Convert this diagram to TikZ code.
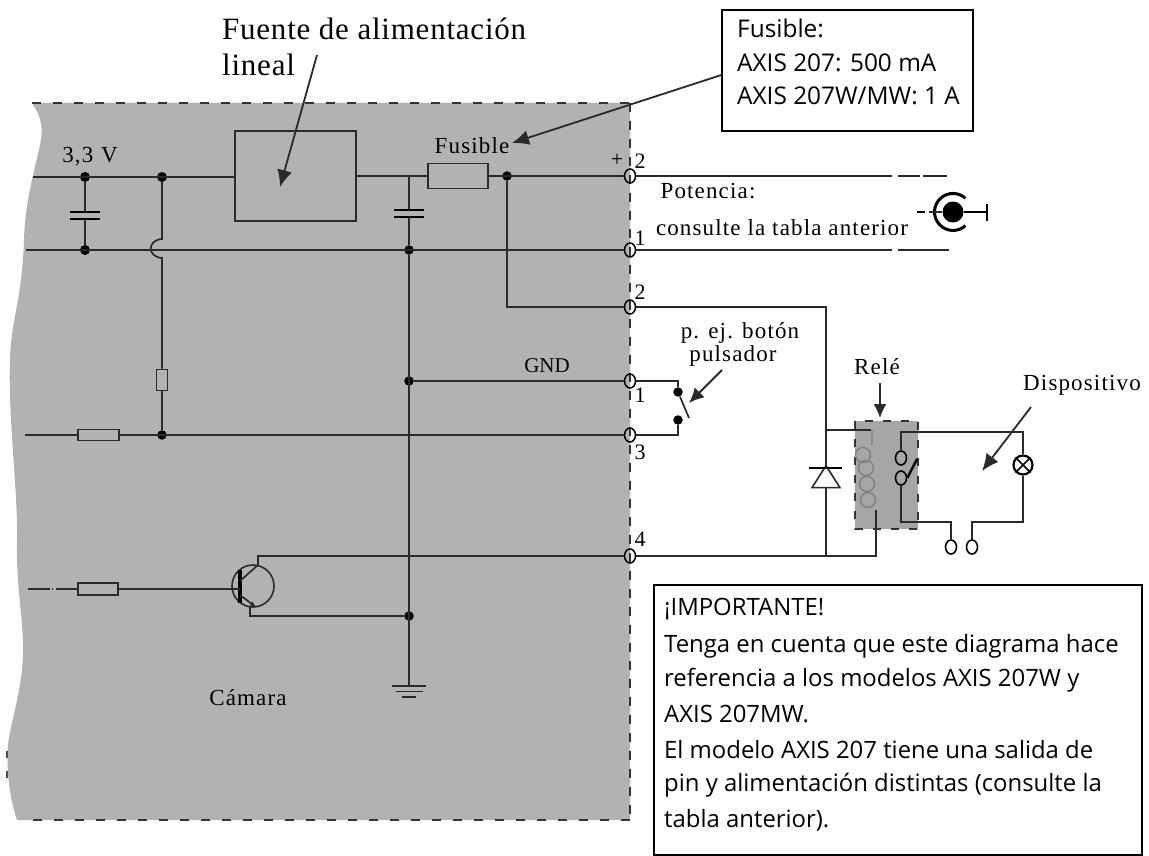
\documentclass[tikz,border=0pt]{standalone}
\usepackage{fontspec}
\setmainfont{Liberation Serif}
\newfontfamily\spacedfont[LetterSpace=5]{Liberation Serif}
\newfontfamily\bigfont[LetterSpace=2.5]{Liberation Serif}
\newfontfamily\boxfont{Open Sans}
\usetikzlibrary{arrows.meta,shapes.geometric,calc}
\definecolor{regiongray}{HTML}{B2B2B2}
\definecolor{relaygray}{HTML}{A6A6A6}
\definecolor{wire}{HTML}{2A2A2A}
\tikzset{
  x=1pt,y=-1pt,
  wireline/.style={draw=wire,line width=1.7pt},
  dotnode/.style={circle,fill=black,inner sep=0pt,minimum size=10pt},
  smalldot/.style={circle,fill=black,inner sep=0pt,minimum size=9.5pt},
  pin/.style={ellipse,draw=black,line width=1.5pt,inner sep=0pt,minimum width=11pt,minimum height=14pt},
  comp/.style={rectangle,draw=wire,line width=1.7pt,inner sep=0pt},
  callout/.style={draw=black,line width=1.2pt,fill=white,rectangle,inner sep=0pt},
  lbl/.style={inner sep=0pt,font=\spacedfont\fontsize{23}{23}\selectfont,text=black},
  gndl/.style={inner sep=0pt,font=\fontsize{21}{21}\selectfont,text=black},
  pnum/.style={inner sep=0pt,font=\fontsize{22}{22}\selectfont,text=black},
  bigl/.style={inner sep=0pt,anchor=west,font=\bigfont\fontsize{31}{31}\selectfont,text=black},
  boxl/.style={inner sep=0pt,anchor=west,font=\boxfont\fontsize{24.4}{24.4}\selectfont,text=black},
  boxm/.style={inner sep=0pt,anchor=west,font=\boxfont\fontsize{23.9}{23.9}\selectfont,text=black},
  pointer/.style={draw=wire,line width=1.8pt,-{Latex[length=17pt,width=15pt]}},
  dashb/.style={draw=black!80,line width=2.2pt,dash pattern=on 9pt off 12pt},
  contact/.style={ellipse,draw=black,line width=1.6pt,minimum width=11pt,minimum height=14pt,inner sep=0pt},
}
\begin{document}
\begin{tikzpicture}
\useasboundingbox (0,0) rectangle (1149,856);
% camera region
\fill[regiongray] (32,103) -- (630,103) -- (630,820) -- (17,820)
  .. controls (10,800) and (6,770) .. (8,745)
  .. controls (10,725) and (22,690) .. (23,655)
  .. controls (24,620) and (16,590) .. (17,540)
  .. controls (18,490) and (8,420) .. (10,360)
  .. controls (11,320) and (22,300) .. (24,240)
  .. controls (25,200) and (36,165) .. (40,145)
  .. controls (44,125) and (40,115) .. (32,103) -- cycle;
\draw[dashb] (32,103) -- (630,103);
\draw[dashb,dash pattern=on 9pt off 9pt] (630,103) -- (630,820);
\draw[dashb] (630,820) -- (23,820);
\coordinate (markA) at (7,751); \coordinate (markB) at (7,758);
\coordinate (markC) at (7,771); \coordinate (markD) at (7,778);
\draw[draw=black!70,line width=1.5pt] (markA) -- (markB) (markC) -- (markD);

% relay body
\fill[relaygray] (855,421) rectangle (918,529);
\draw[draw=black!80,line width=1.8pt,dash pattern=on 8pt off 10pt] (855,421) rectangle (918,529);

% junctions
\node[dotnode] (j1) at (85,177) {};
\node[dotnode] (j2) at (162,177) {};
\node[dotnode] (j3) at (85,250) {};
\node[smalldot] (j4) at (162,435) {};
\node[smalldot] (j5) at (409,250) {};
\node[smalldot] (j6) at (409,381) {};
\node[smalldot] (j7) at (409,616) {};
\node[smalldot] (j8) at (507,176) {};
\coordinate (j9) at (409,176);
\coordinate (j10) at (826,430);
\coordinate (j11) at (826,556);

% pins
\node[pin] (p1) at (630,176) {};
\node[pin] (p2) at (630,250) {};
\node[pin] (p3) at (630,307) {};
\node[pin] (p4) at (630,381) {};
\node[pin] (p5) at (630,435) {};
\node[pin] (p6) at (630,556) {};

% components
\node[comp,minimum width=121pt,minimum height=90pt] (reg) at (295.5,176) {};
\node[comp,minimum width=60pt,minimum height=25pt] (fuse) at (458,176) {};
\node[comp,minimum width=11pt,minimum height=21pt] (r1) at (162,380) {};
\node[comp,minimum width=41pt,minimum height=11pt] (r2) at (98.5,435) {};
\node[comp,minimum width=40pt,minimum height=12pt] (r3) at (98,589) {};

% free wire ends
\coordinate (in1) at (33,177);
\coordinate (in2) at (26,250);
\coordinate (in3) at (25,435);
\coordinate (in4) at (28,589);
\coordinate (in4b) at (50,589);
\coordinate (in4c) at (52,589);
\coordinate (in4d) at (56,589);

% input wires
\draw[wireline] (in1) -- (reg.west |- in1);
\draw[wireline] (in2) -- (p2.west);
\draw[wireline] (in3) -- (r2.west) (r2.east) -- (p5.west);
\draw[wireline,line width=1.3pt] (in4) -- (in4b) (in4c) -- ++(1,0) (in4d) -- (r3.west);

% first capacitor
\coordinate (c1a) at (85,212); \coordinate (c1b) at (85,219);
\draw[wireline] (j1) -- (c1a) (c1b) -- (j3);
\draw[draw=black,line width=2.8pt] (70,212) -- (100,212) (70,219) -- (100,219);

% vertical with jump
\coordinate (jumpT) at (162,239); \coordinate (jumpB) at (162,258);
\draw[wireline] (j2) -- (jumpT) .. controls (147,240) and (147,257) .. (jumpB) -- (r1.north);
\draw[wireline] (r1.south) -- (j4);

% regulator to fuse, second capacitor, ground
\draw[wireline] (reg.east) -- (fuse.west);
\draw[wireline] (fuse.east) -- (p1.west);
\coordinate (c2a) at (409,210); \coordinate (c2b) at (409,217);
\draw[wireline] (j9) -- (c2a) (c2b) -- (j5);
\draw[draw=black,line width=2.8pt] (394,210) -- (424,210) (394,217) -- (424,217);
\coordinate (gnd) at (409,686);
\draw[wireline] (j5) -- (gnd);
\draw[wireline] (392,686) -- (426,686) (396,691.5) -- (423,691.5);
\draw[wireline] (402,697) -- (416,697);

% fused rail to relay
\draw[wireline] (j8) |- (p3.west);
\draw[wireline] (p3.east) -- (826,307) -- (826,468);
\draw[wireline] (j6) -- (p4.west);

% power leads outside
\coordinate (o1a) at (892,176); \coordinate (o1b) at (898,176); \coordinate (o1c) at (920,176);
\coordinate (o1d) at (923,176); \coordinate (o1e) at (947,176);
\coordinate (o2a) at (892,249); \coordinate (o2b) at (898,249); \coordinate (o2c) at (949,249);
\draw[wireline] (p1.east) -- (o1a) (o1b) -- (o1c) (o1d) -- (o1e);
\draw[wireline] (p2.east) -- (o2a -| p2.east) (p2.east) -- (o2a |- p2.east) (o2b |- p2.east) -- (o2c |- p2.east);

% push button
\node[smalldot] (b1) at (678,392) {};
\node[smalldot] (b2) at (678,420) {};
\coordinate (blade) at (689,418);
\draw[wireline] (p4.east) -| (b1);
\draw[wireline] (p5.east) -| (b2);
\draw[wireline] (b1) -- (blade);

% diode
\node[isosceles triangle,isosceles triangle apex angle=65,shape border rotate=90,draw=wire,line width=1.6pt,inner sep=0pt,minimum height=22pt,minimum width=28pt] (dio) at (826,480) {};
\draw[draw=black,line width=2.8pt] (809,468) -- (842,468);
\draw[wireline] (dio.south) -- (j11);

% transistor
\node[circle,draw=wire,line width=1.6pt,minimum size=42pt,inner sep=0pt] (tr) at (253,586) {};
\coordinate (tb) at (240,589);
\coordinate (tc) at (258,565);
\coordinate (te) at (256,607);
\draw[draw=black,line width=3.5pt] (240,570) -- (240,603);
\draw[wireline] (r3.east) -- (tb);
\draw[wireline] (240,581) -- (tc) -- (258,556) -- (p6.west);
\draw[wireline,-{Latex[length=6pt,width=5pt]}] (240,595) -- (te);
\draw[wireline] (250,607) -- (250,616) -- (j7);
\draw[wireline] (p6.east) -- (876,556) -- (876,510);

% relay coil
\draw[wireline] (j10) -- (871,430);
\coordinate (coilA) at (872,430); \coordinate (coilB) at (872,445);
\draw[draw=black!45,line width=1.4pt] (coilA) -- (coilB);
\foreach \n/\px/\py in {a/863/455,b/866/468,c/867/484,d/868/500}{
  \node[circle,draw=black!50,line width=1.4pt,minimum size=15pt,inner sep=0pt] (coil\n) at (\px,\py) {};
}

% relay contact & device circuit
\node[contact] (k1) at (901,458) {};
\node[contact] (k2) at (901,478) {};
\coordinate (kb) at (917,459);
\draw[draw=black,line width=2.4pt] (k2.east) -- (kb);
\node[circle,draw=black,line width=2.2pt,minimum size=19pt,inner sep=0pt] (lamp) at (1023,465) {};
\draw[draw=black,line width=1.6pt] (lamp.north west) -- (lamp.south east) (lamp.north east) -- (lamp.south west);
\node[contact] (t1) at (951,547) {};
\node[contact] (t2) at (972,547) {};
\draw[wireline] (k1.north) |- (lamp.north |- 0,432) -- (lamp.north);
\draw[wireline] (lamp.south) |- (t2.north |- 0,522) -- (t2.north);
\draw[wireline] (k2.south) |- (t1.north |- 0,522) -- (t1.north);

% power jack symbol
\node[circle,fill=black,inner sep=0pt,minimum size=21pt] (jack) at (953,212) {};
\draw[draw=black,line width=3pt] (965.4,225.7) arc[start angle=48,end angle=312,radius=18.5];
\coordinate (jl1) at (917,212); \coordinate (jl2) at (925,212); \coordinate (jl3) at (929,212);
\coordinate (jr) at (987,212);
\draw[draw=black,line width=2.8pt] (jl1) -- (jl2);
\draw[wireline] (jl3) -- (jack);
\draw[draw=black,line width=2.8pt] (jack) -- (jr) (987,204) -- (987,221);

% labels
\node[lbl] (t33) at (90,157) {3,3\,\,V};
\node[lbl] (tfus) at (472,146) {Fusible};
\node[gndl] (tgnd) at (547,366) {GND};
\node[lbl] (tpot) at (708,191) {Potencia:};
\node[lbl] (tcons) at (782,228) {consulte la tabla anterior};
\node[lbl] (tbtn1) at (740,333) {p. ej. botón};
\node[lbl] (tbtn2) at (733,356) {pulsador};
\node[lbl] (trel) at (877,367) {Relé};
\node[lbl] (tdisp) at (1082,385) {Dispositivo};
\node[lbl] (tcam) at (248,698) {Cámara};
\node[pnum] (n1) at (617,160) {+};
\node[pnum] (n2) at (640,161) {2};
\node[pnum] (n3) at (640,238) {1};
\node[pnum] (n4) at (640,292) {2};
\node[pnum] (n5) at (640,395) {1};
\node[pnum] (n6) at (640,452) {3};
\node[pnum] (n7) at (640,539) {4};
\node[bigl] (tf1) at (222,29) {Fuente de alimentación};
\node[bigl] (tf2) at (222,65) {lineal};

% callouts
\node[callout,minimum width=251pt,minimum height=121pt] (fbox) at (847.5,70.5) {};
\node[boxl] (fb1) at (737,28) {Fusible:};
\node[boxl] (fb2) at (737,63) {AXIS 207: 500 mA};
\node[boxl] (fb3) at (737,96) {AXIS 207W/MW: 1 A};
\node[callout,minimum width=488pt,minimum height=270pt] (ibox) at (898,720) {};
\foreach \n/\yy/\tx in {a/609/¡IMPORTANTE!,b/646/Tenga en cuenta que este diagrama hace,c/680/referencia a los modelos AXIS 207W y,d/714/AXIS 207MW.,e/750/El modelo AXIS 207 tiene una salida de,f/785/pin y alimentación distintas (consulte la,g/820/tabla anterior).}{
  \node[boxm] (ib\n) at (664,\yy) {\tx};
}

% pointers
\coordinate (p0a) at (317,55); \coordinate (p0b) at (280,187);
\draw[pointer] (p0a) -- (p0b);
\draw[pointer] (fbox.west |- 0,75) -- (512,143);
\draw[pointer,-{Latex[length=15pt,width=14pt]}] (722,370) -- (689,403);
\draw[pointer,line width=1.5pt,-{Latex[length=14pt,width=13pt]}] (880,383) -- (880,418);
\draw[pointer] (1031,407) -- (982,471);
\end{tikzpicture}
\end{document}
